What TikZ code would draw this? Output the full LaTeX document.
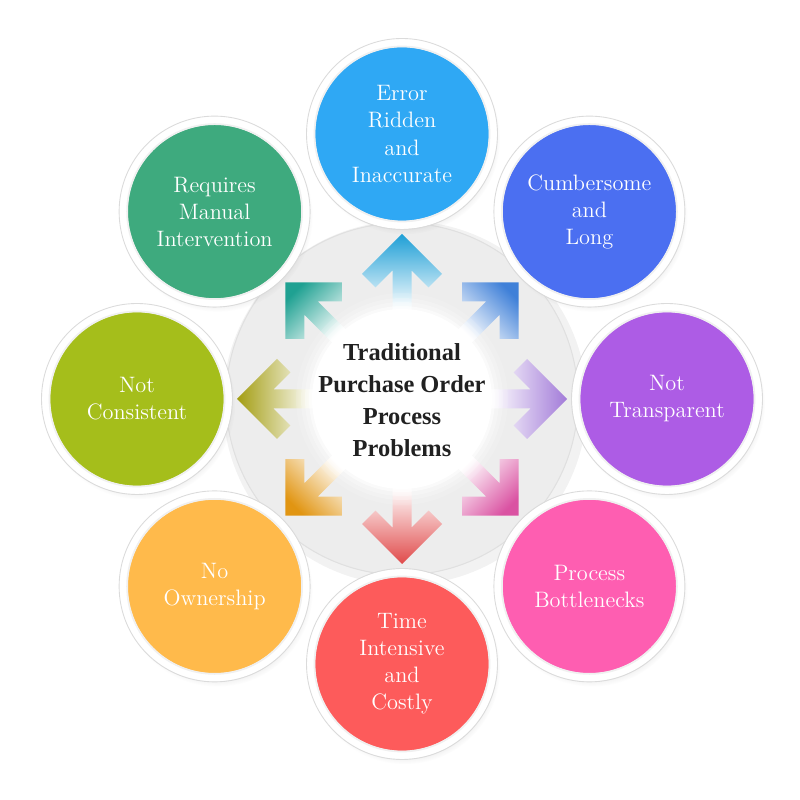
\documentclass[tikz,border=0pt]{standalone}
\usepackage{fontspec}
\newfontfamily\ctrfont{Liberation Serif}
\usetikzlibrary{shadows,calc}
\definecolor{cU}{HTML}{2FA8F4}
\definecolor{cUR}{HTML}{4B6FF1}
\definecolor{cR}{HTML}{AD5CE5}
\definecolor{cDR}{HTML}{FE5EB1}
\definecolor{cD}{HTML}{FD5B5B}
\definecolor{cDL}{HTML}{FFBA4B}
\definecolor{cL}{HTML}{A5BE1B}
\definecolor{cUL}{HTML}{3EAA7E}
\definecolor{aU}{HTML}{1E9FD6}
\definecolor{aUR}{HTML}{3F80D8}
\definecolor{aR}{HTML}{A27BD8}
\definecolor{aDR}{HTML}{DA52A2}
\definecolor{aD}{HTML}{E04A4A}
\definecolor{aDL}{HTML}{E19512}
\definecolor{aL}{HTML}{A39D12}
\definecolor{aUL}{HTML}{1FA192}
\definecolor{plate}{HTML}{EDEDED}
\tikzset{
  bubble/.style={circle, fill=#1, draw=white, line width=0.16cm, minimum size=3.64cm, inner sep=0pt,
    align=center, text=white, font=\fontsize{12.7}{15.4}\selectfont,
    circular drop shadow={shadow xshift=0.05cm, shadow yshift=-0.09cm, opacity=0.22, shadow scale=1.05}},
  ringline/.style={draw=black!14, line width=0.5pt},
  arrowshape/.style={top color=#1, middle color=#1!80!white, bottom color=white},
}
\begin{document}
\begin{tikzpicture}[x=0.02cm,y=0.02cm]
\useasboundingbox (0,0) rectangle (800,800);
\coordinate (C) at (402,401);
% plate
\fill[black, opacity=0.05] ([xshift=0.06cm,yshift=-0.08cm]C) circle (182);
\fill[plate] (C) circle (176);
\draw[black!12, line width=0.6pt] (C) circle (176);
% arrows
\foreach \ang/\col in {90/aU, 45/aUR, 0/aR, -45/aDR, -90/aD, -135/aDL, 180/aL, 135/aUL}{
  \pgfmathsetmacro\sa{\ang-90}
  \begin{scope}[shift={(C)}, rotate=\ang]
    \shade[arrowshape=\col, shading angle=\sa] (165,0) -- (125,40) -- (111.6,26.6) -- (128.6,9.5) -- (88,9.5)
      -- (88,-9.5) -- (128.6,-9.5) -- (111.6,-26.6) -- (125,-40) -- cycle;
  \end{scope}
}
% glow and inner white disc
\foreach \r/\o in {106/0.12, 101/0.2, 97/0.3, 93/0.5}{
  \fill[white, opacity=\o] (C) circle (\r);
}
\fill[white] (C) circle (90);
\node[font=\ctrfont\bfseries\fontsize{13.9}{18.2}\selectfont, align=center, text=black!87] (ctr) at ([yshift=-0.02cm]C)
  {Traditional\\Purchase Order\\Process\\Problems};
% bubbles
\node[bubble=cU]  (n1) at ($(C)+(90:265)$)  {Error\\Ridden\\and\\Inaccurate};
\node[bubble=cUR] (n2) at ($(C)+(45:265)$)  {Cumbersome\\and\\Long};
\node[bubble=cR]  (n3) at ($(C)+(0:265)$)   {Not\\Transparent};
\node[bubble=cDR] (n4) at ($(C)+(-45:265)$) {Process\\Bottlenecks};
\node[bubble=cD]  (n5) at ($(C)+(-90:265)$) {Time\\Intensive\\and\\Costly};
\node[bubble=cDL] (n6) at ($(C)+(-135:265)$) {No\\Ownership};
\node[bubble=cL]  (n7) at ($(C)+(180:265)$) {Not\\Consistent};
\node[bubble=cUL] (n8) at ($(C)+(135:265)$) {Requires\\Manual\\Intervention};
\foreach \n in {n1,n2,n3,n4,n5,n6,n7,n8}{
  \draw[ringline] (\n.center) circle (95.5);
  \draw[black!6, line width=1pt] (\n.center) circle (87.5);
}
\end{tikzpicture}
\end{document}
